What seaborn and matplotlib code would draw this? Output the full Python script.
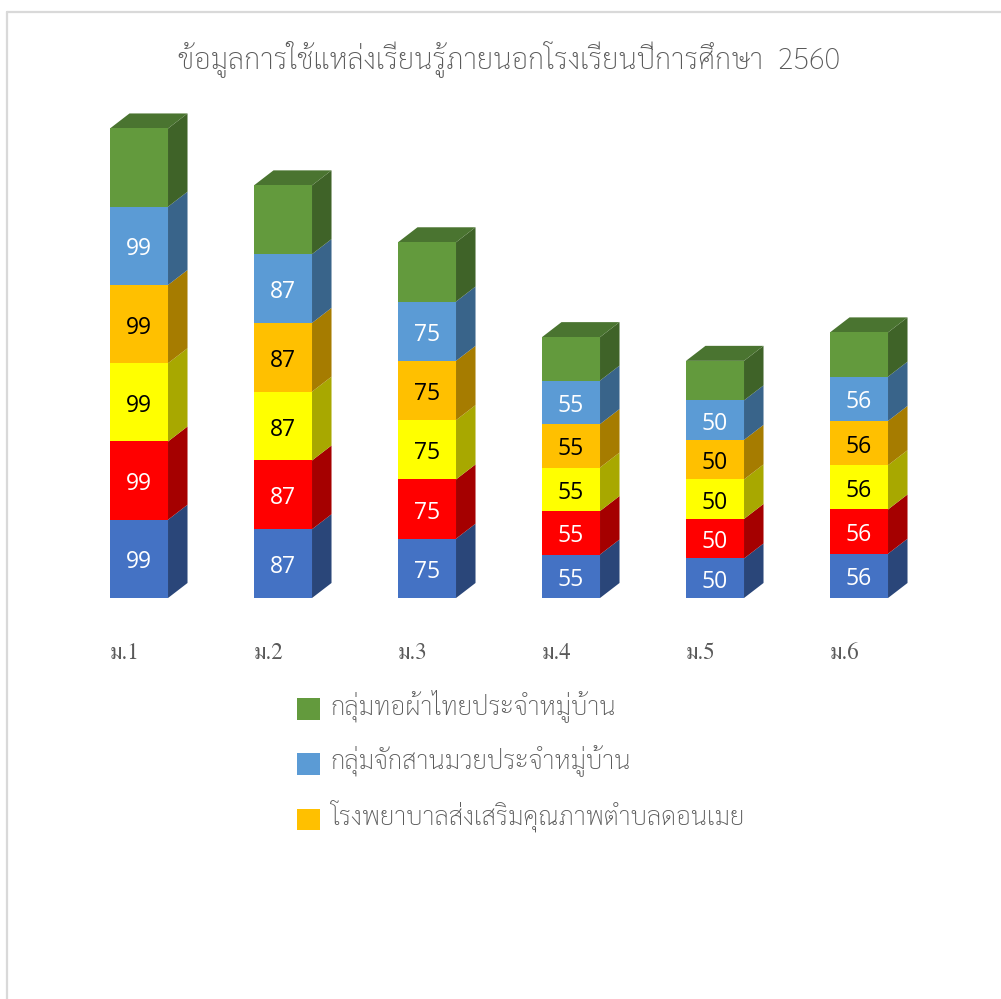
import matplotlib
matplotlib.use("Agg")
import matplotlib.pyplot as plt
from matplotlib.lines import Line2D
from matplotlib.patches import Patch
import pandas as pd
import seaborn as sns

W, H = 1001, 999

grades = ["ม.1", "ม.2", "ม.3", "ม.4", "ม.5", "ม.6"]
series_a = [99, 87, 75, 55, 50, 56]
series_b = [99, 87, 75, 55, 50, 56]
series_c = [99, 87, 75, 55, 50, 56]
series_d = [99, 87, 75, 55, 50, 56]
series_e = [99, 87, 75, 55, 50, 56]
series_f = [99, 87, 75, 55, 50, 56]
stack = [series_a, series_b, series_c, series_d, series_e, series_f]

title_text = "ข้อมูลการใช้แหล่งเรียนรู้ภายนอกโรงเรียนปีการศึกษา  2560"
legend_labels = ["กลุ่มทอผ้าไทยประจำหมู่บ้าน", "กลุ่มจักสานมวยประจำหมู่บ้าน",
                 "โรงพยาบาลส่งเสริมคุณภาพตำบลดอนเมย"]
front = ["#4472C4", "#FF0000", "#FFFF00", "#FFC000", "#5B9BD5", "#639A3D"]
side = ["#2A4679", "#A50000", "#A8A800", "#A67C00", "#39648A", "#3F6328"]
top_colour = "#4A7430"
label_colour = ["white", "white", "black", "black", "white", None]

sns.set_theme(style="white")
THAI = "Sarabun"
plt.rcParams["font.family"] = [THAI, "DejaVu Sans"]

fig = plt.figure(figsize=(W / 100, H / 100), dpi=100)
ax = fig.add_axes([67 / W, 1 - 598 / H, 864 / W, 498 / H])

dx = 19.5 / 144
dy = 15 / 0.79

bottoms = [0] * len(grades)
for k, vals in enumerate(stack):
    df = pd.DataFrame({"grade": grades, "value": vals})
    n0 = len(ax.patches)
    sns.barplot(data=df, x="grade", y="value", color=front[k], saturation=1,
                width=0.403, bottom=bottoms, ax=ax, linewidth=0, zorder=3)
    for b, v, bar in zip(bottoms, vals, ax.patches[n0:]):
        x0, x1 = bar.get_x(), bar.get_x() + bar.get_width()
        ax.fill([x1, x1 + dx, x1 + dx, x1], [b, b + dy, b + v + dy, b + v],
                color=side[k], linewidth=0, zorder=2)
        if k == len(stack) - 1:
            ax.fill([x0, x1, x1 + dx, x0 + dx],
                    [b + v, b + v, b + v + dy, b + v + dy],
                    color=top_colour, linewidth=0, zorder=2)
        if label_colour[k]:
            ax.annotate(str(v), ((x0 + x1) / 2, b + v / 2), xytext=(0, -2.6),
                        textcoords="offset points", color=label_colour[k],
                        fontsize=16.5, ha="center", va="center", family="Open Sans", zorder=4)
    bottoms = [b + v for b, v in zip(bottoms, vals)]

ax.set_xlim(-0.5, 5.5)
ax.set_ylim(0, 630)
ax.set_xlabel("")
ax.set_ylabel("")
ax.set_yticks([])
ax.set_xticks([i - 0.205 for i in range(len(grades))])
ax.set_xticklabels(grades, ha="left", fontsize=16.5, color="#595959", family="FreeSerif")
ax.tick_params(axis="x", length=0, pad=32)
sns.despine(ax=ax, left=True, bottom=True)

fig.text(509 / W, 1 - 59 / H, title_text, fontsize=20.9, color="#595959", fontweight="light",
         ha="center", va="center")

handles = [Patch(color=c, linewidth=0) for c in [front[5], front[4], front[3]]]
leg = fig.legend(handles, legend_labels, loc="upper left",
                 bbox_to_anchor=(297 / W, 1 - 693 / H), frameon=False, ncol=1,
                 fontsize=18.6, labelcolor="#595959",
                 handlelength=0.89, handleheight=0.89, handletextpad=0.42,
                 labelspacing=0.89, borderpad=0, borderaxespad=0)
for t in leg.get_texts():
    t.set_fontweight("light")
    t.set_y(4)

grey = "#D9D9D9"
fig.add_artist(Line2D([7 / W, 7 / W], [0, 1 - 12 / H], color=grey, linewidth=1.6))
fig.add_artist(Line2D([7 / W, 1], [1 - 12 / H, 1 - 12 / H], color=grey, linewidth=1.6))

fig.savefig("out.png", dpi=100, facecolor="white")
